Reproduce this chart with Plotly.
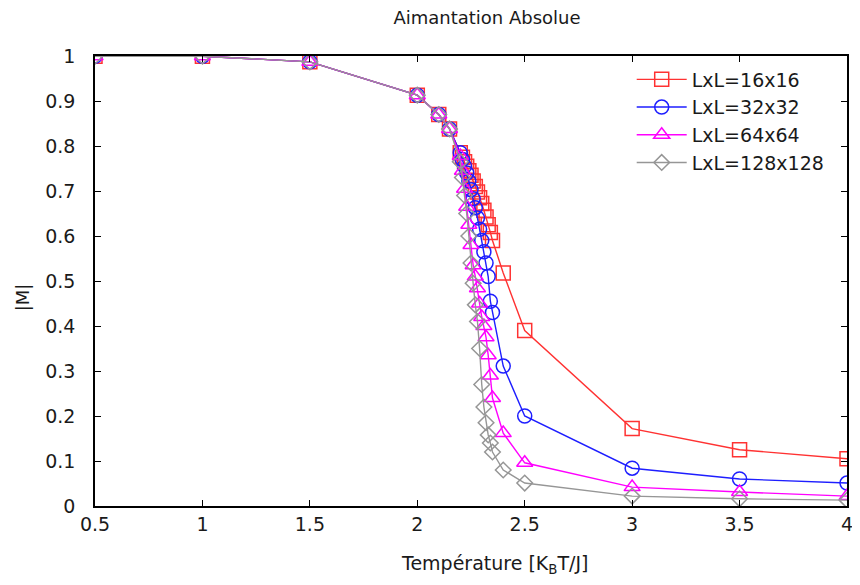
import plotly.graph_objects as go

temps = [0.5, 1.0, 1.5, 2.0, 2.1, 2.15,
         2.20, 2.21, 2.22, 2.23, 2.24, 2.25, 2.26, 2.27, 2.28, 2.29,
         2.30, 2.31, 2.32, 2.33, 2.34, 2.35,
         2.4, 2.5, 3.0, 3.5, 4.0]

m_16 = [0.9995, 0.9995, 0.987, 0.913, 0.870, 0.838,
        0.785, 0.775, 0.765, 0.755, 0.745, 0.735, 0.722, 0.710, 0.698, 0.685,
        0.672, 0.657, 0.642, 0.625, 0.608, 0.590,
        0.518, 0.390, 0.172, 0.125, 0.105]

m_32 = [0.9995, 0.9995, 0.987, 0.913, 0.870, 0.838,
        0.785, 0.770, 0.755, 0.740, 0.722, 0.703, 0.683, 0.663, 0.640, 0.615,
        0.590, 0.565, 0.540, 0.510, 0.455, 0.430,
        0.311, 0.200, 0.084, 0.060, 0.051]

m_64 = [0.9995, 0.9995, 0.987, 0.913, 0.870, 0.838,
        0.778, 0.745, 0.705, 0.665, 0.625, 0.580, 0.535, 0.510, 0.484, 0.450,
        0.420, 0.400, 0.375, 0.335, 0.290, 0.240,
        0.162, 0.096, 0.042, 0.031, 0.022]

m_128 = [0.9995, 0.9995, 0.987, 0.913, 0.870, 0.838,
         0.765, 0.730, 0.690, 0.650, 0.600, 0.540, 0.495, 0.447, 0.410, 0.350,
         0.270, 0.220, 0.185, 0.158, 0.140, 0.120,
         0.080, 0.051, 0.022, 0.016, 0.013]

series = [
    ("LxL=16x16", m_16, "rgb(255,50,50)", "square-open", 14),
    ("LxL=32x32", m_32, "rgb(30,30,255)", "circle-open", 14),
    ("LxL=64x64", m_64, "rgb(255,0,255)", "triangle-up-open", 14),
    ("LxL=128x128", m_128, "rgb(150,150,150)", "diamond-open", 12),
]

FONT = "DejaVu Sans"
TXT = "#1a1a1a"

fig = go.Figure()
for name, vals, color, sym, sz in series:
    fig.add_trace(go.Scatter(
        x=temps, y=vals, name=name, mode="lines+markers",
        line=dict(color=color, width=1.4),
        marker=dict(symbol=sym, size=sz, color=color, line=dict(width=1.5, color=color)),
    ))

axis_common = dict(
    showgrid=False, zeroline=False, showline=True, linecolor="black", linewidth=1.5,
    mirror="ticks", ticks="inside", ticklen=6, tickwidth=1, tickcolor="black",
    tickfont=dict(family=FONT, size=19, color=TXT), automargin=False,
)

fig.update_layout(
    width=860, height=585,
    margin=dict(l=87, r=21, t=48, b=87),
    paper_bgcolor="white", plot_bgcolor="white",
    title=dict(text="Aimantation Absolue", x=0.557, xanchor="center", y=0.983, yanchor="middle",
               font=dict(family=FONT, size=18, color=TXT), automargin=False),
    xaxis=dict(range=[0.5, 4], tickvals=[0.5, 1, 1.5, 2, 2.5, 3, 3.5, 4],
               ticktext=["0.5", "1", "1.5", "2", "2.5", "3", "3.5", "4"],
               ticklabelstandoff=0, **axis_common),
    yaxis=dict(range=[0, 1], tickvals=[0, 0.1, 0.2, 0.3, 0.4, 0.5, 0.6, 0.7, 0.8, 0.9, 1],
               ticktext=["0", "0.1", "0.2", "0.3", "0.4", "0.5", "0.6", "0.7", "0.8", "0.9", "1"],
               ticklabelstandoff=14, **axis_common),
    legend=dict(x=0.977, y=0.99, xanchor="right", yanchor="top", bgcolor="rgba(0,0,0,0)",
                font=dict(family=FONT, size=19, color=TXT), tracegroupgap=0,
                itemwidth=50),
    showlegend=True,
    annotations=[
        dict(text="Température [K<sub>B</sub>T/J]", xref="paper", yref="paper",
             x=0.5306, y=-0.131, xanchor="center", yanchor="middle", showarrow=False,
             font=dict(family=FONT, size=19, color=TXT)),
        dict(text="|M|", xref="paper", yref="paper", textangle=-90,
             x=-0.097, y=0.464, xanchor="center", yanchor="middle", showarrow=False,
             font=dict(family=FONT, size=18, color=TXT)),
    ],
)

fig.write_html("out.html")
